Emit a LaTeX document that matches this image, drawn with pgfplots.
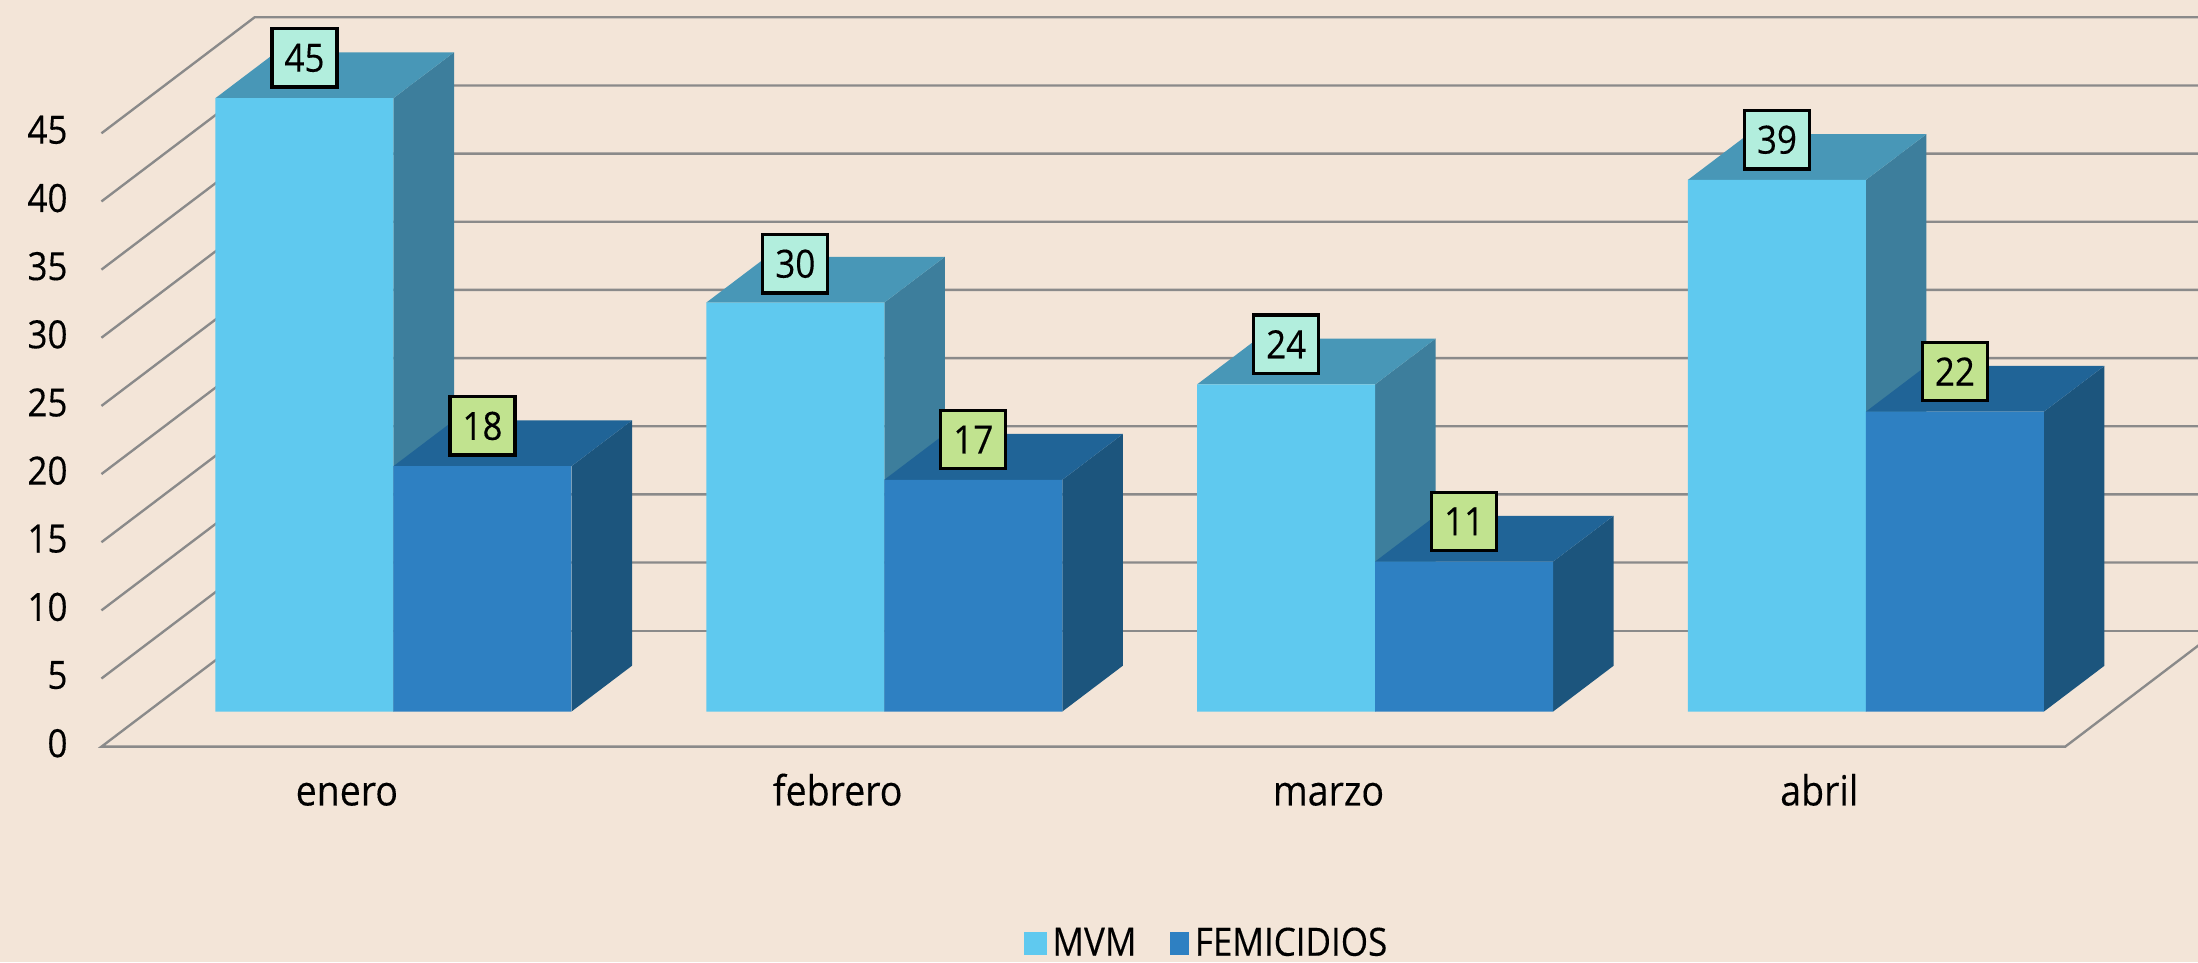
\documentclass[border=0pt]{standalone}
\usepackage{pgfplots}
\usepackage{fontspec}
\pgfplotsset{compat=1.18}
\setmainfont{Open Sans}[FakeStretch=0.9,FakeBold=0.25]
\definecolor{bg}{HTML}{F3E5D8}
\definecolor{gridc}{HTML}{8A8A8A}
\definecolor{mvmf}{HTML}{5FC9EF}
\definecolor{mvmt}{HTML}{4897B7}
\definecolor{mvms}{HTML}{3D7E9C}
\definecolor{femf}{HTML}{2E80C2}
\definecolor{femt}{HTML}{206497}
\definecolor{fems}{HTML}{1C557D}
\definecolor{lblm}{HTML}{B2EEDD}
\definecolor{lblf}{HTML}{C1E38F}
\begin{document}
\begin{tikzpicture}
\fill[bg] (0,0) rectangle (791.28pt,346.32pt);
\useasboundingbox (0,0) rectangle (791.28pt,346.32pt);
\begin{axis}[
  at={(28.8pt,70.56pt)}, anchor=south west,
  scale only axis, width=762.48pt, height=275.76pt,
  xmin=-0.6387, xmax=3.6766, ymin=-3.9985, ymax=52.2,
  axis line style={draw=none},
  major tick length=0pt,
  /pgf/number format/assume math mode=true,
  tick label style={font=\fontsize{14}{16}\selectfont, inner sep=0pt},
  ytick={-2.33,2.67,7.67,12.67,17.67,22.67,27.67,32.67,37.67,42.67},
  yticklabels={0,5,10,15,20,25,30,35,40,45},
  y tick label style={anchor=east, xshift=-4.3pt},
  xtick={-0.095,0.905,1.905,2.905},
  xticklabels={enero,febrero,marzo,abril},
  x tick label style={anchor=base, yshift=-14.2pt, font=\fontsize{15}{17}\selectfont},
  legend columns=2,
  legend style={draw=none, fill=none, at={(0.4455,-0.232)}, anchor=west,
    font=\fontsize{14}{16}\selectfont, inner sep=0pt, outer sep=0pt,
    /tikz/every even column/.append style={column sep=10pt}},
]
% back wall and side wall grid
\pgfplotsset{every axis plot/.append style={line join=miter}}
\addplot[forget plot, gridc, line width=0.85pt] coordinates {(-0.595,42.42)(-0.283,50.93)(3.72,50.93)};
\addplot[forget plot, gridc, line width=0.85pt] coordinates {(-0.595,37.42)(-0.283,45.93)(3.72,45.93)};
\addplot[forget plot, gridc, line width=0.85pt] coordinates {(-0.595,32.42)(-0.283,40.93)(3.72,40.93)};
\addplot[forget plot, gridc, line width=0.85pt] coordinates {(-0.595,27.42)(-0.283,35.93)(3.72,35.93)};
\addplot[forget plot, gridc, line width=0.85pt] coordinates {(-0.595,22.42)(-0.283,30.93)(3.72,30.93)};
\addplot[forget plot, gridc, line width=0.85pt] coordinates {(-0.595,17.42)(-0.283,25.93)(3.72,25.93)};
\addplot[forget plot, gridc, line width=0.85pt] coordinates {(-0.595,12.42)(-0.283,20.93)(3.72,20.93)};
\addplot[forget plot, gridc, line width=0.85pt] coordinates {(-0.595,7.42)(-0.283,15.93)(3.72,15.93)};
\addplot[forget plot, gridc, line width=0.85pt] coordinates {(-0.595,2.42)(-0.283,10.93)(3.72,10.93)};
\addplot[forget plot, gridc, line width=0.85pt] coordinates {(-0.283,5.93)(3.72,5.93)};
% floor
\addplot[forget plot, gridc, line width=0.85pt] coordinates {(-0.283,5.93)(-0.595,-2.58)(3.406,-2.58)(3.717,5.93)};
% MVM sides
\addplot[forget plot, draw=none, fill=mvms] coordinates {(0,0)(0.1233,3.36)(0.1233,48.36)(0,45)} -- cycle;
\addplot[forget plot, draw=none, fill=mvms] coordinates {(1,0)(1.1233,3.36)(1.1233,33.36)(1,30)} -- cycle;
\addplot[forget plot, draw=none, fill=mvms] coordinates {(2,0)(2.1233,3.36)(2.1233,27.36)(2,24)} -- cycle;
\addplot[forget plot, draw=none, fill=mvms] coordinates {(3,0)(3.1233,3.36)(3.1233,42.36)(3,39)} -- cycle;
% MVM tops
\addplot[forget plot, draw=none, fill=mvmt] coordinates {(-0.3627,45)(-0.2394,48.36)(0.1233,48.36)(0,45)} -- cycle;
\addplot[forget plot, draw=none, fill=mvmt] coordinates {(0.6373,30)(0.7606,33.36)(1.1233,33.36)(1,30)} -- cycle;
\addplot[forget plot, draw=none, fill=mvmt] coordinates {(1.6373,24)(1.7606,27.36)(2.1233,27.36)(2,24)} -- cycle;
\addplot[forget plot, draw=none, fill=mvmt] coordinates {(2.6373,39)(2.7606,42.36)(3.1233,42.36)(3,39)} -- cycle;
% MVM fronts
\addplot[ybar, bar width=64.08pt, bar shift=-32.04pt, draw=none, fill=mvmf,
  legend image code/.code={\fill[mvmf] (0pt,-4.15pt) rectangle (8.4pt,4.15pt);}]
  coordinates {(0,45)(1,30)(2,24)(3,39)};
\addlegendentry{MVM}
% FEMICIDIOS sides
\addplot[forget plot, draw=none, fill=fems] coordinates {(0.3627,0)(0.486,3.36)(0.486,21.36)(0.3627,18)} -- cycle;
\addplot[forget plot, draw=none, fill=fems] coordinates {(1.3627,0)(1.486,3.36)(1.486,20.36)(1.3627,17)} -- cycle;
\addplot[forget plot, draw=none, fill=fems] coordinates {(2.3627,0)(2.486,3.36)(2.486,14.36)(2.3627,11)} -- cycle;
\addplot[forget plot, draw=none, fill=fems] coordinates {(3.3627,0)(3.486,3.36)(3.486,25.36)(3.3627,22)} -- cycle;
% FEMICIDIOS tops
\addplot[forget plot, draw=none, fill=femt] coordinates {(0,18)(0.1233,21.36)(0.486,21.36)(0.3627,18)} -- cycle;
\addplot[forget plot, draw=none, fill=femt] coordinates {(1,17)(1.1233,20.36)(1.486,20.36)(1.3627,17)} -- cycle;
\addplot[forget plot, draw=none, fill=femt] coordinates {(2,11)(2.1233,14.36)(2.486,14.36)(2.3627,11)} -- cycle;
\addplot[forget plot, draw=none, fill=femt] coordinates {(3,22)(3.1233,25.36)(3.486,25.36)(3.3627,22)} -- cycle;
% FEMICIDIOS fronts
\addplot[ybar, bar width=64.08pt, bar shift=32.04pt, draw=none, fill=femf,
  legend image code/.code={\fill[femf] (0pt,-4.15pt) rectangle (7pt,4.15pt);}]
  coordinates {(0,18)(1,17)(2,11)(3,22)};
\addlegendentry{FEMICIDIOS}
% value labels
\addplot[forget plot, draw=none, point meta=explicit, nodes near coords,
  every node near coord/.style={anchor=center, draw=black, line width=1.2pt, fill=lblm,
    minimum width=23.4pt, minimum height=21pt, inner sep=0pt, text=black,
    font=\fontsize{14}{16}\selectfont}]
  coordinates {(-0.1813,47.95)[45] (0.8187,32.85)[30] (1.8187,26.95)[24] (2.8187,41.95)[39]};
\addplot[forget plot, draw=none, point meta=explicit, nodes near coords,
  every node near coord/.style={anchor=center, draw=black, line width=1.2pt, fill=lblf,
    minimum width=23.4pt, minimum height=21pt, inner sep=0pt, text=black,
    font=\fontsize{14}{16}\selectfont}]
  coordinates {(0.1813,20.95)[18] (1.1813,19.95)[17] (2.1813,13.95)[11] (3.1813,24.95)[22]};
\end{axis}
\end{tikzpicture}
\end{document}
